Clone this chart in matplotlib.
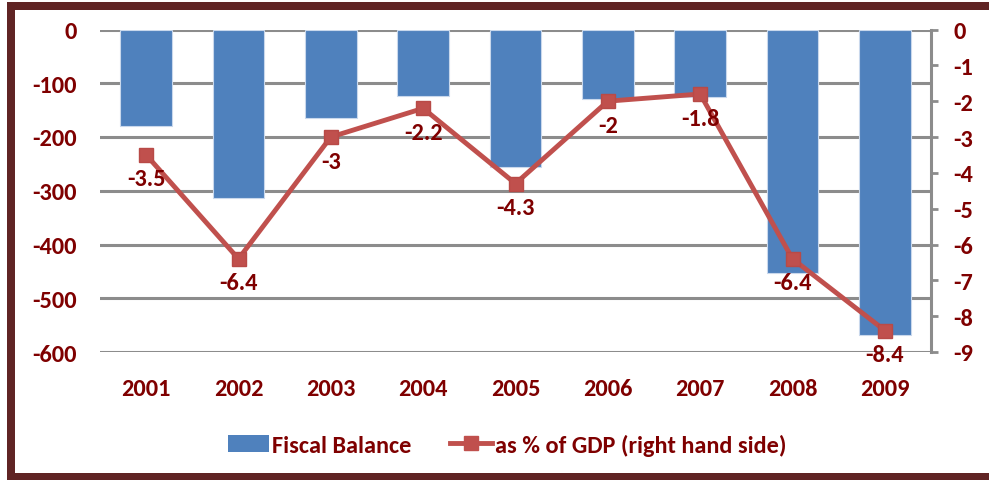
import matplotlib
matplotlib.use('Agg')
import matplotlib.pyplot as plt
import numpy as np
from matplotlib.patches import Rectangle, Patch
from matplotlib.lines import Line2D
from matplotlib import font_manager as fm

years = ['2001', '2002', '2003', '2004', '2005', '2006', '2007', '2008', '2009']
fiscal_balance = [-180, -314, -165, -123, -256, -129, -126, -453, -568]
pct_gdp = [-3.5, -6.4, -3, -2.2, -4.3, -2, -1.8, -6.4, -8.4]
pct_labels = ['-3.5', '-6.4', '-3', '-2.2', '-4.3', '-2', '-1.8', '-6.4', '-8.4']
left_ticks = [0, -100, -200, -300, -400, -500, -600]
right_ticks = [0, -1, -2, -3, -4, -5, -6, -7, -8, -9]
legend_labels = ['Fiscal Balance', 'as % of GDP (right hand side)']

TXT = '#7F0000'
BAR = '#4F81BD'
LINE = '#C0504D'
GRID = '#8C8C8C'
BORDER = '#602424'

names = set(f.name for f in fm.fontManager.ttflist)
if 'Carlito' in names:
    FONT, TS, LFONT, LS = 'Carlito', 17.5, 'Carlito', 17.5
else:
    FONT, TS, LFONT, LS = 'Lato', 15.5, 'Open Sans', 15.0

plt.rcParams['font.family'] = [FONT, 'DejaVu Sans']
plt.rcParams['font.weight'] = 'bold'

W, H = 989, 481
fig = plt.figure(figsize=(W / 100, H / 100), dpi=100)

# frame
fig.patches.append(Rectangle((7 / W, 0), 8 / W, 1 - 3 / H, transform=fig.transFigure,
                             facecolor=BORDER, edgecolor='none', zorder=10))
fig.patches.append(Rectangle((7 / W, 1 - 10.5 / H), 1, 7.5 / H, transform=fig.transFigure,
                             facecolor=BORDER, edgecolor='none', zorder=10))
fig.patches.append(Rectangle((7 / W, 0), 1, 7 / H, transform=fig.transFigure,
                             facecolor=BORDER, edgecolor='none', zorder=10))

ax = fig.add_axes([100 / W, 1 - 353 / H, 831 / W, (353 - 30.5) / H])
x = np.arange(len(years))
ax.bar(x, fiscal_balance, width=0.56, color=BAR, edgecolor='#C9D8EC', linewidth=0.8, zorder=2)
ax.set_xlim(-0.5, len(years) - 0.5)
ax.set_ylim(-600, 0)
ax.set_yticks(left_ticks)
ax.set_yticklabels([str(v) for v in left_ticks])
ax.grid(axis='y', color=GRID, lw=2.2, zorder=0)
ax.set_axisbelow(True)
for s in ax.spines.values():
    s.set_visible(False)
ax.tick_params(axis='y', length=0, pad=17, labelcolor=TXT, labelsize=TS)
ax.set_xticks(x)
ax.set_xticklabels(years)
ax.tick_params(axis='x', length=0, pad=19, labelcolor=TXT, labelsize=TS)
for lab in ax.get_xticklabels() + ax.get_yticklabels():
    lab.set_fontweight('bold')

ax2 = ax.twinx()
ax2.set_ylim(-9, 0)
ax2.set_xlim(-0.5, len(years) - 0.5)
ax2.plot(x, pct_gdp, color=LINE, lw=3.5, marker='s', ms=10.5, markerfacecolor=LINE,
         markeredgecolor='#B84A47', zorder=5)
for xi, yi, lab in zip(x, pct_gdp, pct_labels):
    ax2.annotate(lab, (xi, yi), xytext=(0, -24), textcoords='offset pixels',
                 ha='center', va='center', color=TXT, fontsize=TS, fontweight='bold', zorder=6)
for k, s in ax2.spines.items():
    s.set_visible(k == 'right')
ax2.spines['right'].set_color(GRID)
ax2.spines['right'].set_linewidth(2.2)
ax2.set_yticks(right_ticks)
ax2.set_yticklabels([str(v) for v in right_ticks])
ax2.tick_params(axis='y', direction='out', length=5, width=2, color=GRID, pad=11,
                labelcolor=TXT, labelsize=TS)
for lab in ax2.get_yticklabels():
    lab.set_fontweight('bold')

handles = [Patch(facecolor=BAR, edgecolor='none'),
           Line2D([], [], color=LINE, lw=3.5, marker='s', ms=10.5, markerfacecolor=LINE)]
leg = fig.legend(handles, legend_labels, loc='center', bbox_to_anchor=(507 / W, 1 - 446 / H),
                 ncol=2, frameon=False, handlelength=1.7, handleheight=0.75, handletextpad=0.12,
                 columnspacing=1.6, prop={'family': LFONT, 'weight': 'bold', 'size': LS})
for t in leg.get_texts():
    t.set_color(TXT)

fig.savefig('out.png', dpi=100)
